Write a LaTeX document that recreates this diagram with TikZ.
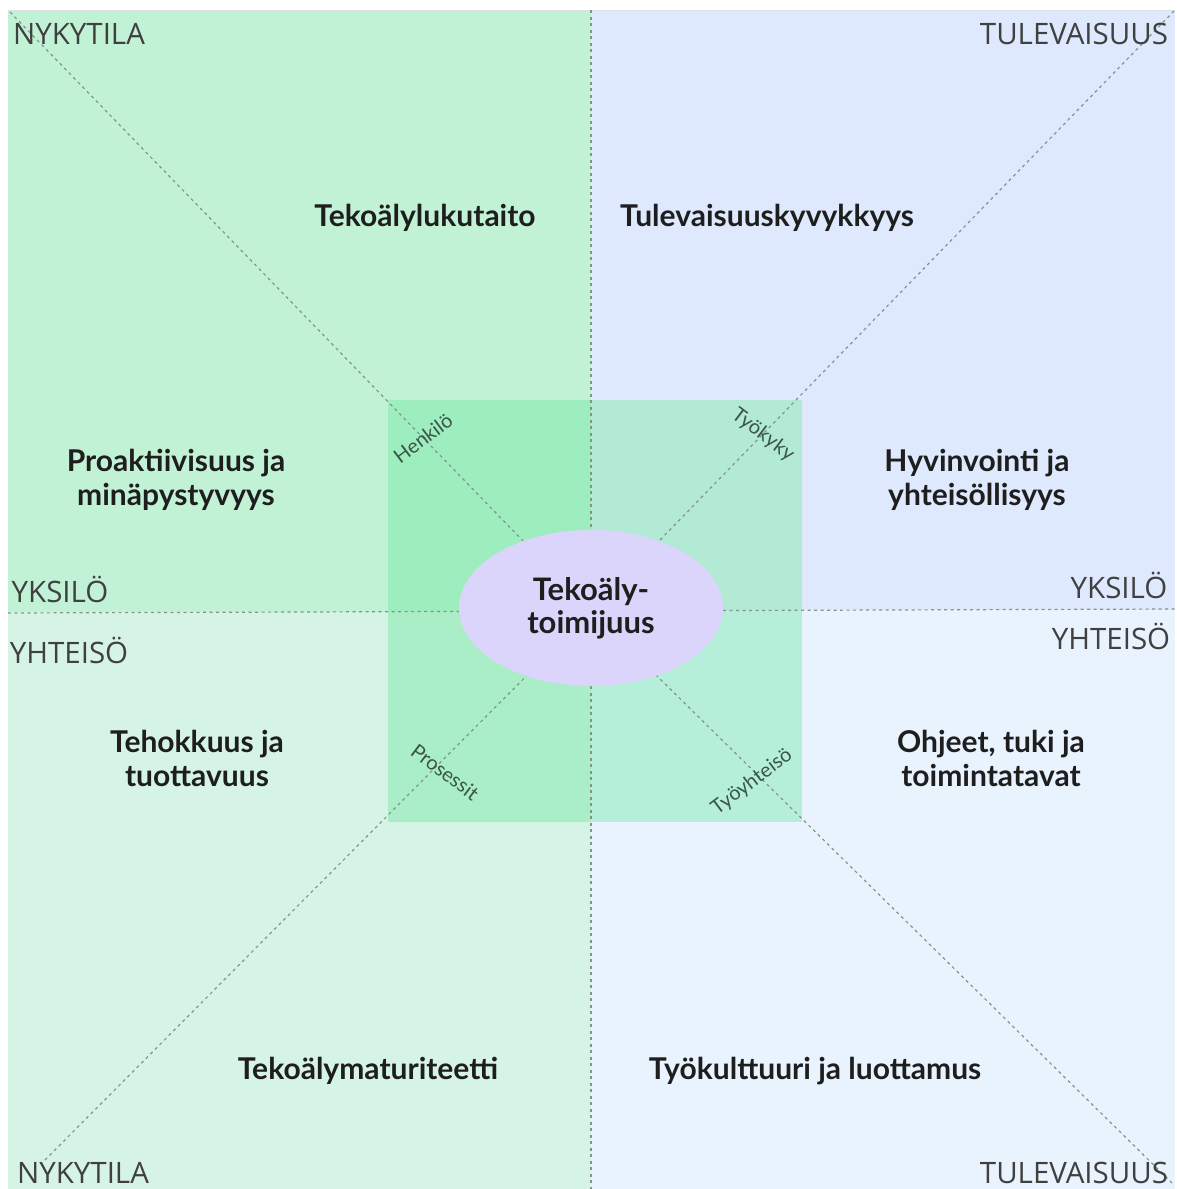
\documentclass[tikz,border=0pt]{standalone}
\usepackage{fontspec}
\setmainfont{Lato}
\newfontfamily\cornerfont{Open Sans}
\usetikzlibrary{shapes.geometric}
\definecolor{qTL}{HTML}{C2F2D5}
\definecolor{qTR}{HTML}{DEE9FD}
\definecolor{qBL}{HTML}{D6F4E5}
\definecolor{qBR}{HTML}{E9F3FE}
\definecolor{cTL}{HTML}{9EEDBF}
\definecolor{cTR}{HTML}{B2EAD5}
\definecolor{cBL}{HTML}{A9EEC6}
\definecolor{cBR}{HTML}{B5EFD9}
\definecolor{ell}{HTML}{DBD4FB}
\definecolor{dashcol}{HTML}{85948B}
\definecolor{axistext}{HTML}{3A5646}
\definecolor{txt}{HTML}{1E1E1E}
\tikzset{
  divider/.style={draw=dashcol, line width=1.2pt, dash pattern=on 3pt off 3.5pt},
  heading/.style={font=\bfseries\fontsize{30}{34}\selectfont, text=txt, align=center},
  corner/.style={font=\cornerfont\fontsize{29.5}{32}\selectfont, text=txt!85!white},
  axis/.style={font=\fontsize{20}{22}\selectfont, text=axistext},
}
\begin{document}
\begin{tikzpicture}[x=1pt,y=-1pt]
\useasboundingbox (0,0) rectangle (1177,1189);
\fill[white] (0,0) rectangle (1177,1189);
% quadrants
\fill[qTL] (8,10) rectangle (591,612);
\fill[qTR] (591,10) rectangle (1175,610);
\fill[qBL] (8,612) rectangle (591,1189);
\fill[qBR] (591,610) rectangle (1175,1189);
\draw[black!12, line width=1pt] (8,10) -- (1175,10);
% centre square
\fill[cTL] (388,400) rectangle (591,612);
\fill[cTR] (591,400) rectangle (802,610);
\fill[cBL] (388,612) rectangle (591,822);
\fill[cBR] (591,610) rectangle (802,822);
% coordinates
\coordinate (c) at (591,611);
\coordinate (tl) at (10,12);
\coordinate (tr) at (1174,11);
\coordinate (bl) at (45,1160);
\coordinate (br) at (1172,1183);
\coordinate (top) at (591,10);
\coordinate (bot) at (591,1189);
\coordinate (lft) at (8,613);
\coordinate (rgt) at (1175,609);
% dashed dividers
\draw[divider] (tl) -- (c);
\draw[divider] (tr) -- (c);
\draw[divider] (bl) -- (c);
\draw[divider] (br) -- (c);
\draw[divider] (top) -- (bot);
\draw[divider] (lft) -- (c) -- (rgt);
% centre ellipse
\node[ellipse, fill=ell, minimum width=264pt, minimum height=156pt, inner sep=0pt,
      font=\bfseries\fontsize{31}{33}\selectfont, text=txt, align=center] (core) at (591,608) {Tekoäly-\\toimijuus};
% corner labels
\node[corner] (nyk1) at (79,34) {NYKYTILA};
\node[corner] (tul1) at (1074,34) {TULEVAISUUS};
\node[corner] (yks1) at (60,589) {YKSILÖ};
\node[corner] (yht1) at (69,650) {YHTEISÖ};
\node[corner] (yks2) at (1119,585) {YKSILÖ};
\node[corner] (yht2) at (1111,636) {YHTEISÖ};
\node[corner] (nyk2) at (83,1173) {NYKYTILA};
\node[corner] (tul2) at (1074,1173) {TULEVAISUUS};
% headings
\node[heading] (h1) at (425,218) {Tekoälylukutaito};
\node[heading] (h2) at (767,218) {Tulevaisuuskyvykkyys};
\node[heading] (h3) at (176,480) {Proaktiivisuus ja\\minäpystyvyys};
\node[heading] (h4) at (977,480) {Hyvinvointi ja\\yhteisöllisyys};
\node[heading] (h5) at (197,758) {Tehokkuus ja\\tuottavuus};
\node[heading] (h6) at (991,758) {Ohjeet, tuki ja\\toimintatavat};
\node[heading] (h7) at (368,1071) {Tekoälymaturiteetti};
\node[heading] (h8) at (815,1071) {Työkulttuuri ja luottamus};
% axis labels
\node[axis, rotate=37] (a1) at (423,438) {Henkilö};
\node[axis, rotate=-37] (a2) at (763,435) {Työkyky};
\node[axis, rotate=-37] (a3) at (445,772) {Prosessit};
\node[axis, rotate=37] (a4) at (752,782) {Työyhteisö};
\end{tikzpicture}
\end{document}
